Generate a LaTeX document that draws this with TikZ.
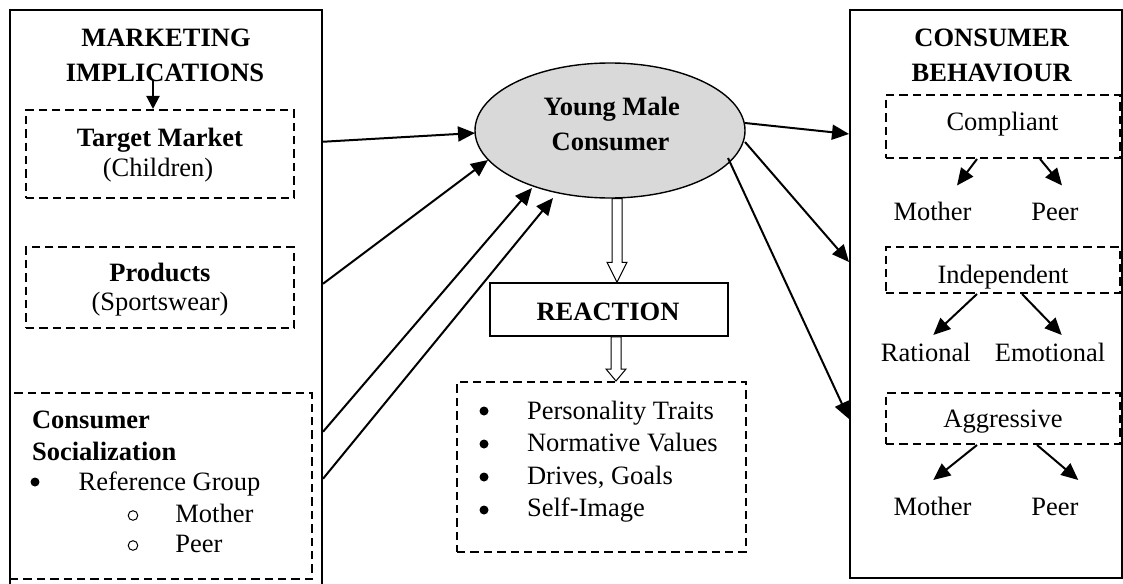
\documentclass[tikz,border=0pt]{standalone}
\usepackage{fontspec}
\setmainfont{Liberation Serif}
\usetikzlibrary{shapes.geometric,arrows.meta,calc}
\definecolor{ymgray}{RGB}{217,217,217}
\tikzset{
  plain/.style={font=\fontsize{13.25}{15}\selectfont, inner sep=0pt, anchor=base},
  bold/.style={plain, font=\fontsize{13.25}{15}\selectfont\bfseries},
  plainl/.style={plain, anchor=base west},
  boldl/.style={bold, anchor=base west},
  outerbox/.style={draw, line width=1pt, rectangle, inner sep=0pt},
  dbox/.style={draw, line width=1pt, dash pattern=on 4.2pt off 2.5pt, rectangle, inner sep=0pt},
  arr/.style={line width=1pt, -{Triangle[length=8.5pt,width=7.5pt]}},
  hollow/.style={draw, line width=0.5pt, fill=white, line join=miter},
  bul/.style={circle, fill, inner sep=0pt, minimum size=4.5pt},
  obul/.style={circle, draw, line width=0.5pt, inner sep=0pt, minimum size=4.8pt},
}
% open block arrow pointing down: start, tip, head length
\newcommand\hollowarrow[3]{%
  \draw[hollow] ($(#1)+(-5,0)$) -- ($(#2)+(-5,-#3)$) -- ($(#2)+(-10,-#3)$) -- (#2)
    -- ($(#2)+(10,-#3)$) -- ($(#2)+(5,-#3)$) -- ($(#1)+(5,0)$) -- cycle;}
\begin{document}
\begin{tikzpicture}[x=0.5pt,y=-0.5pt]
\useasboundingbox (0,0) rectangle (1123,583);
\clip (0,0) rectangle (1123,583);

% ---- left column: marketing implications
\node[outerbox, minimum width=156pt, minimum height=295pt] (lbox) at (166,305.25) {};
\node[bold] (mk1) at (166,46.7) {MARKETING};
\node[bold] (mk2) at (165,81.7) {IMPLICATIONS};
\node[dbox, minimum width=134pt, minimum height=44pt] (tm) at (160,154) {};
\node[bold] (tmt) at (160,146.7) {Target Market};
\node[plain] (tms) at (158,176.7) {(Children)};
\node[dbox, minimum width=134pt, minimum height=40.5pt] (pr) at (160,287.5) {};
\node[bold] (prt) at (160,281.7) {Products};
\node[plain] (prs) at (160,310.7) {(Sportswear)};
\node[dbox, minimum width=151pt, minimum height=93pt] (cs) at (161,486) {};
\node[boldl] (cs1) at (31.7,428) {Consumer};
\node[boldl] (cs2) at (31.7,460) {Socialization};
\node[bul] (csb) at (35,482) {};
\node[plainl] (cs3) at (78.3,490.5) {Reference Group};
\node[obul] (cso1) at (133,515.5) {};
\node[plainl] (cs4) at (175,522) {Mother};
\node[obul] (cso2) at (133,545.5) {};
\node[plainl] (cs5) at (175,552) {Peer};

\coordinate (ax) at (153,0);
\draw[line width=1pt, -{Triangle[length=6.5pt,width=6.5pt]}] ($(mk2.base -| ax)+(0,-2)$) -- (tm.north -| ax);

% ---- centre: consumer and reaction
\node[ellipse, draw, line width=0.7pt, fill=ymgray, minimum width=135pt, minimum height=67.5pt, inner sep=0pt] (ym) at (610,130.5) {};
\node[bold] (ym1) at (611.7,115) {Young Male};
\node[bold] (ym2) at (610.5,150) {Consumer};
\node[draw, line width=0.75pt, rectangle, inner sep=0pt, minimum width=119pt, minimum height=26.5pt] (re) at (609,309.5) {};
\node[bold] (ret) at (608,320) {REACTION};
\node[dbox, minimum width=144.5pt, minimum height=85pt] (tr) at (601.5,467) {};
\node[bul] (tb1) at (484,411) {};
\node[bul] (tb2) at (484,444) {};
\node[bul] (tb3) at (484,477) {};
\node[bul] (tb4) at (484,510) {};
\node[plainl] (tr1) at (526.7,419) {Personality Traits};
\node[plainl] (tr2) at (526.7,451.5) {Normative Values};
\node[plainl] (tr3) at (526.7,484) {Drives, Goals};
\node[plainl] (tr4) at (526.7,516.5) {Self-Image};

\coordinate (h1a) at ($(ym.south)+(7,0)$);
\coordinate (h1b) at ($(re.north)+(8,0)$);
\hollowarrow{h1a}{h1b}{20}
\coordinate (h2a) at ($(re.south)+(7,0)$);
\coordinate (h2b) at ($(tr.north)+(14.5,0)$);
\hollowarrow{h2a}{h2b}{12}

% ---- right column: consumer behaviour
\node[outerbox, minimum width=136pt, minimum height=283.75pt] (rbox) at (986,294.25) {};
\node[bold] (cb1) at (991.7,46.7) {CONSUMER};
\node[bold] (cb2) at (991.7,81.7) {BEHAVIOUR};
\node[dbox, minimum width=117pt, minimum height=31.5pt] (cp) at (1003,126.5) {};
\node[plain] (cpt) at (1002.5,130.5) {Compliant};
\node[plain] (mo1) at (932.5,220.5) {Mother};
\node[plain] (pe1) at (1055,220.5) {Peer};
\node[dbox, minimum width=117pt, minimum height=23pt] (in) at (1003,270) {};
\node[plain] (int) at (1003,283) {Independent};
\node[plain] (ra) at (925.8,361) {Rational};
\node[plain] (em) at (1050,361) {Emotional};
\node[dbox, minimum width=117pt, minimum height=25.5pt] (ag) at (1003,418.5) {};
\node[plain] (agt) at (1003,427) {Aggressive};
\node[plain] (mo2) at (932.5,515) {Mother};
\node[plain] (pe2) at (1055,515) {Peer};

\draw[arr] ($(cp.south)+(-26,0)$) -- ($(mo1.base)+(24.5,-35)$);
\draw[arr] ($(cp.south)+(37,0)$) -- ($(pe1.base)+(7,-35)$);
\draw[arr] ($(in.south)+(-26,0)$) -- ($(ra.base)+(7.5,-26)$);
\draw[arr] ($(in.south)+(19,0)$) -- ($(em.base)+(11.7,-26)$);
\draw[arr] ($(ag.south)+(-26,0)$) -- ($(mo2.base)+(0.8,-35)$);
\draw[arr] ($(ag.south)+(34,0)$) -- ($(pe2.base)+(23.3,-35)$);

% ---- influences into the consumer
\draw[arr] ($(lbox.north east)+(0,132.5)$) -- ($(ym.center)+(-135,2.5)$);
\draw[arr] ($(lbox.north east)+(0,274.5)$) -- ($(ym.center)+(-122,29.5)$);
\draw[arr] ($(lbox.north east)+(0,422.5)$) -- ($(ym.center)+(-78,57.5)$);
\draw[arr] ($(lbox.north east)+(0,469.5)$) -- ($(ym.center)+(-57,67.5)$);

% ---- consumer to behaviour
\draw[arr] ($(ym.center)+(135,-7.5)$) -- ($(rbox.north west)+(0,124.5)$);
\draw[arr] ($(ym.center)+(135,11.5)$) -- ($(rbox.north west)+(0,252.5)$);
\draw[arr] ($(ym.center)+(118,27.5)$) -- ($(rbox.north west)+(0,409.5)$);
\end{tikzpicture}
\end{document}
